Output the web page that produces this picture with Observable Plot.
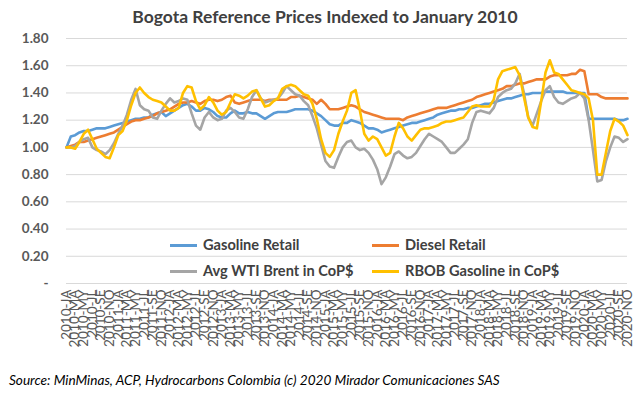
<!DOCTYPE html>
<html><head><meta charset="utf-8">
<script src="https://cdn.jsdelivr.net/npm/d3@7"></script>
<script src="https://cdn.jsdelivr.net/npm/@observablehq/plot@0.6"></script>
<style>
body{margin:0;background:#fff;font-family:Lato,"Open Sans",sans-serif;}
#wrap{position:relative;width:640px;height:395px;overflow:hidden;background:#fff;}
#title{position:absolute;left:0;top:6px;width:650px;text-align:center;font-size:17.5px;font-weight:bold;color:#404040;white-space:nowrap;}
#chart{position:absolute;left:0;top:30px;}
#caption{position:absolute;left:9px;top:372px;font-size:13.6px;font-style:italic;color:#000;white-space:nowrap;}
.lg{position:absolute;font-size:14.6px;font-weight:bold;color:#404040;white-space:nowrap;line-height:16px;}
.sw{position:absolute;height:3px;}
</style></head>
<body>
<div id="wrap">
  <div id="title">Bogota Reference Prices Indexed to January 2010</div>
  <div id="chart"></div>
  <div id="legend"></div>
  <div id="caption">Source: MinMinas, ACP, Hydrocarbons Colombia (c) 2020 Mirador Comunicaciones SAS</div>
</div>
<script>
const years = [2010,2011,2012,2013,2014,2015,2016,2017,2018,2019,2020];
const monthCodes = ["JA","FE","MA","AP","MY","JN","JL","AU","SE","OC","NO","DE"];
const months = years.flatMap(y => monthCodes.map(m => `${y}-${m}`)).slice(0, 131); // 2010-JA .. 2020-NO

const seriesNames = ["Gasoline Retail","Diesel Retail","Avg WTI Brent in CoP$","RBOB Gasoline in CoP$"];
const seriesColors = ["#5B9BD5","#ED7D31","#A5A5A5","#FFC000"];

const gasoline = [
1.00,1.08,1.09,1.11,1.12,1.12,1.13,1.14,1.14,1.14,1.15,1.16,
1.17,1.18,1.19,1.20,1.21,1.21,1.22,1.22,1.24,1.25,1.26,1.23,
1.25,1.27,1.29,1.31,1.32,1.30,1.27,1.27,1.29,1.28,1.26,1.23,
1.22,1.22,1.25,1.27,1.25,1.25,1.26,1.25,1.25,1.23,1.21,1.23,
1.25,1.26,1.26,1.26,1.27,1.28,1.28,1.28,1.28,1.27,1.25,1.23,
1.20,1.17,1.16,1.16,1.18,1.18,1.20,1.19,1.18,1.16,1.14,1.14,
1.13,1.11,1.12,1.13,1.14,1.15,1.16,1.17,1.18,1.18,1.19,1.20,
1.21,1.22,1.24,1.25,1.26,1.27,1.27,1.28,1.28,1.29,1.29,1.30,
1.31,1.32,1.32,1.33,1.34,1.35,1.36,1.36,1.37,1.38,1.39,1.39,
1.40,1.40,1.40,1.41,1.41,1.41,1.41,1.41,1.40,1.40,1.40,1.40,
1.40,1.21,1.21,1.21,1.21,1.21,1.21,1.21,1.20,1.20,1.21];

const diesel = [
1.00,1.01,1.02,1.04,1.04,1.05,1.06,1.07,1.08,1.09,1.10,1.11,
1.13,1.15,1.17,1.19,1.20,1.20,1.21,1.22,1.23,1.25,1.26,1.27,
1.28,1.30,1.32,1.33,1.33,1.34,1.33,1.32,1.34,1.35,1.35,1.34,
1.35,1.37,1.38,1.33,1.32,1.33,1.34,1.35,1.35,1.35,1.34,1.35,
1.35,1.35,1.35,1.35,1.37,1.37,1.38,1.37,1.36,1.35,1.32,1.35,
1.32,1.28,1.28,1.28,1.29,1.30,1.31,1.30,1.28,1.26,1.25,1.24,
1.23,1.22,1.21,1.21,1.21,1.21,1.20,1.22,1.23,1.24,1.25,1.26,
1.27,1.28,1.29,1.29,1.29,1.30,1.31,1.32,1.33,1.34,1.35,1.37,
1.38,1.39,1.40,1.41,1.42,1.43,1.45,1.45,1.46,1.47,1.47,1.48,
1.49,1.50,1.50,1.50,1.52,1.53,1.53,1.53,1.53,1.54,1.54,1.57,
1.56,1.39,1.39,1.39,1.37,1.36,1.36,1.36,1.36,1.36,1.36];

const wtiBrent = [
1.00,1.00,1.01,1.04,1.06,1.07,1.00,0.98,0.97,0.95,0.98,1.03,
1.10,1.16,1.24,1.35,1.43,1.31,1.28,1.27,1.22,1.21,1.27,1.32,
1.36,1.33,1.34,1.36,1.35,1.25,1.16,1.13,1.22,1.26,1.22,1.20,
1.21,1.27,1.29,1.26,1.22,1.21,1.28,1.37,1.42,1.36,1.33,1.34,
1.35,1.36,1.40,1.45,1.42,1.39,1.38,1.34,1.31,1.23,1.14,1.02,
0.90,0.86,0.85,0.93,1.00,1.04,1.05,1.00,0.98,0.99,0.96,0.91,
0.84,0.73,0.78,0.86,0.95,0.97,0.94,0.92,0.93,0.96,1.01,1.06,
1.10,1.08,1.06,1.04,1.00,0.96,0.96,0.99,1.02,1.06,1.18,1.26,
1.27,1.26,1.25,1.29,1.37,1.40,1.42,1.43,1.47,1.54,1.40,1.22,
1.16,1.25,1.34,1.42,1.45,1.37,1.33,1.32,1.34,1.36,1.37,1.40,
1.36,1.20,0.98,0.75,0.76,0.90,1.00,1.08,1.07,1.04,1.06];

const rbob = [
1.00,1.00,0.99,1.04,1.10,1.13,1.06,0.99,0.96,0.93,0.92,1.00,
1.09,1.12,1.20,1.31,1.40,1.44,1.40,1.37,1.35,1.34,1.33,1.30,
1.27,1.27,1.29,1.40,1.45,1.44,1.34,1.28,1.31,1.37,1.33,1.27,
1.24,1.26,1.33,1.39,1.38,1.36,1.38,1.41,1.42,1.36,1.30,1.31,
1.34,1.36,1.43,1.45,1.46,1.45,1.42,1.39,1.38,1.32,1.21,1.06,
0.96,0.93,0.98,1.10,1.19,1.27,1.40,1.42,1.27,1.10,1.05,1.08,
1.06,1.00,0.94,0.96,1.08,1.18,1.14,1.08,1.05,1.09,1.13,1.14,
1.14,1.15,1.16,1.18,1.19,1.19,1.20,1.21,1.22,1.26,1.30,1.31,
1.30,1.30,1.30,1.35,1.50,1.56,1.57,1.58,1.59,1.53,1.37,1.22,
1.15,1.14,1.34,1.55,1.64,1.55,1.54,1.50,1.46,1.42,1.41,1.40,
1.39,1.36,1.20,0.80,0.80,0.96,1.12,1.21,1.19,1.16,1.09];

const yTicks = [0,0.2,0.4,0.6,0.8,1.0,1.2,1.4,1.6,1.8];
const xTickLabels = months.filter((d, i) => i % 2 === 0);

const seriesValues = [gasoline, diesel, wtiBrent, rbob];
const rows = seriesValues.flatMap((vals, s) =>
  vals.map((v, i) => ({month: months[i], value: v, series: seriesNames[s]})));

const chart = Plot.plot({
  width: 640,
  height: 330,
  marginTop: 8,
  marginBottom: 77,
  marginLeft: 66,
  marginRight: 13,
  style: {fontFamily: "Lato, 'Open Sans', sans-serif", background: "#fff"},
  x: {type: "point", domain: months, padding: 0},
  y: {domain: [0, 1.8]},
  color: {domain: seriesNames, range: seriesColors},
  marks: [
    Plot.gridY(yTicks, {stroke: "#d9d9d9", strokeOpacity: 1, strokeWidth: 1}),
    Plot.axisY(yTicks, {tickSize: 0, tickPadding: 18, label: null, fontSize: 13.5, fontWeight: "bold", fill: "#595959",
      tickFormat: d => d === 0 ? "-" : d.toFixed(2)}),
    Plot.axisX(xTickLabels, {tickSize: 0, tickRotate: -90, tickPadding: 6, label: null, fontSize: 13.5, fill: "#595959"}),
    ...seriesNames.map(name =>
      Plot.line(rows.filter(r => r.series === name), {x: "month", y: "value", stroke: "series", strokeWidth: 2.6, curve: "linear"}))
  ]
});
document.getElementById("chart").appendChild(chart);

// legend (inside plot area, two rows)
const legendPos = [[170, 237], [372, 237], [170, 263], [372, 263]];
const lg = document.getElementById("legend");
seriesNames.forEach((name, k) => {
  const [lx, ly] = legendPos[k];
  const sw = document.createElement("div");
  sw.className = "sw";
  sw.style.left = lx + "px"; sw.style.top = (ly + 7) + "px"; sw.style.width = "27px";
  sw.style.background = seriesColors[k];
  lg.appendChild(sw);
  const t = document.createElement("div");
  t.className = "lg";
  t.style.left = (lx + 33) + "px"; t.style.top = ly + "px";
  t.textContent = name;
  lg.appendChild(t);
});
</script>
</body></html>
